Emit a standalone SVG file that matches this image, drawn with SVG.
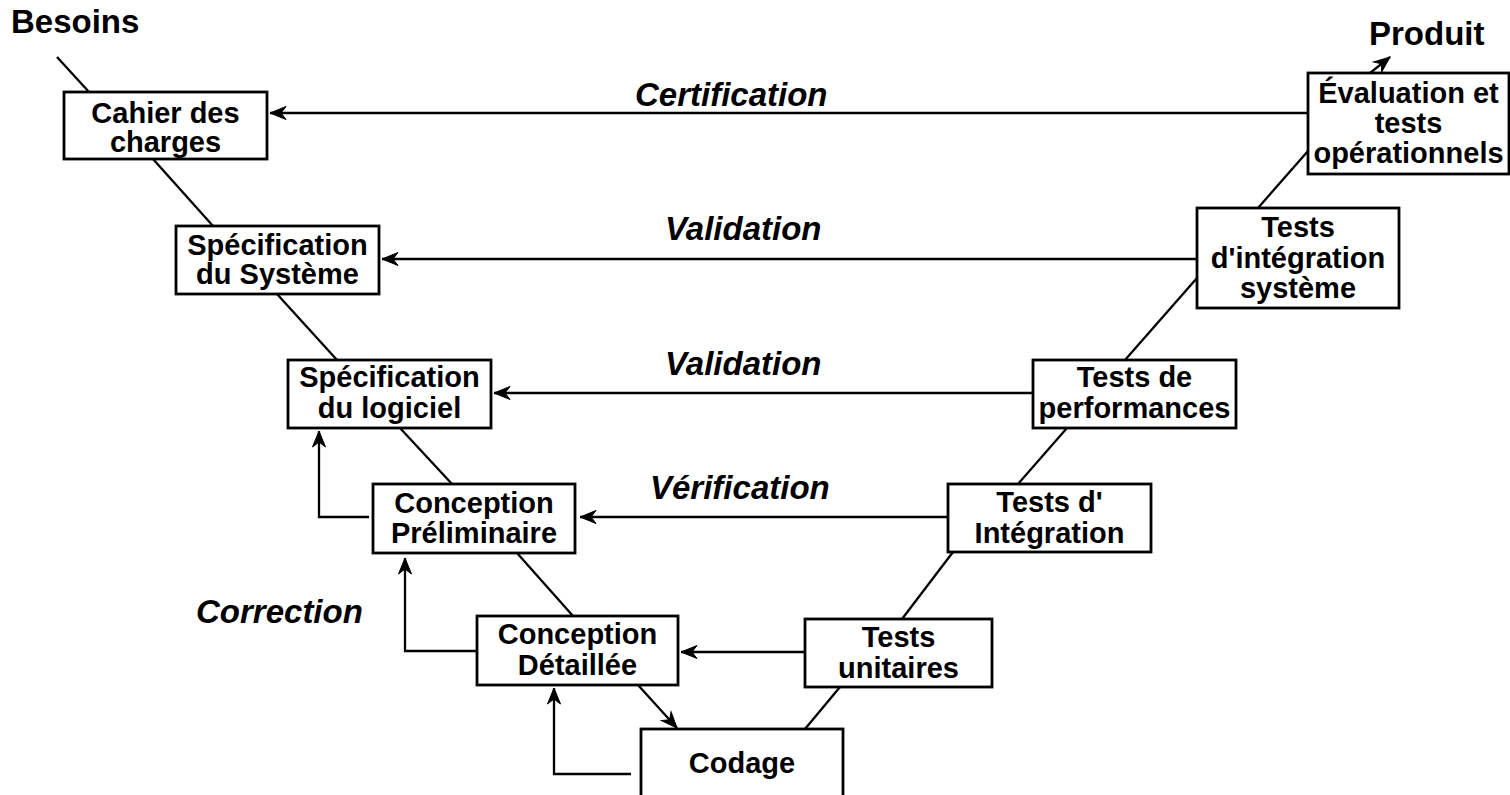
<svg xmlns="http://www.w3.org/2000/svg" width="1510" height="795" viewBox="0 0 1510 795">
  <style>
    .box { fill: #ffffff; stroke: #000000; stroke-width: 2.8; }
    .t { font-family: "Liberation Sans", Arial, sans-serif; font-weight: bold; font-size: 29px; fill: #000000; text-anchor: middle; }
    .lbl { font-family: "Liberation Sans", Arial, sans-serif; font-weight: bold; font-style: italic; font-size: 33px; fill: #000000; }
    .ext { font-family: "Liberation Sans", Arial, sans-serif; font-weight: bold; font-size: 33px; fill: #000000; }
    .ln { fill: none; stroke: #000000; stroke-width: 2.3; }
    .arr { fill: none; stroke: #000000; stroke-width: 2.3; marker-end: url(#head); }
  </style>
  <defs>
    <marker id="head" markerUnits="userSpaceOnUse" markerWidth="22" markerHeight="16" viewBox="-17 -8 19 16" refX="0" refY="0" orient="auto">
      <path d="M-16,-6.5 L0,0 L-16,6.5 L-11,0 Z" fill="#000000" stroke="#000000" stroke-width="1" stroke-linejoin="miter"/>
    </marker>
  </defs>

  <rect width="1510" height="795" fill="#ffffff"/>

  <!-- connectors -->
  <g id="connectors">
    <!-- V-shaped chain -->
    <line class="ln" x1="57" y1="57" x2="89" y2="92"/>
    <line class="ln" x1="153" y1="159" x2="213" y2="226"/>
    <line class="ln" x1="277" y1="294" x2="337" y2="360"/>
    <line class="ln" x1="400" y1="428" x2="452" y2="484"/>
    <line class="ln" x1="517" y1="553" x2="573" y2="616"/>
    <line class="arr" x1="638" y1="685" x2="677" y2="728"/>
    <line class="ln" x1="805" y1="729" x2="840" y2="687"/>
    <line class="ln" x1="902" y1="619" x2="953" y2="552"/>
    <line class="ln" x1="1018" y1="484" x2="1067" y2="428"/>
    <line class="ln" x1="1125" y1="360" x2="1197" y2="278"/>
    <line class="ln" x1="1258" y1="208" x2="1308" y2="151"/>
    <line class="arr" x1="1370" y1="73" x2="1390" y2="57"/>

    <!-- horizontal feedback -->
    <line class="arr" x1="1308" y1="113" x2="270" y2="113"/>
    <line class="arr" x1="1196" y1="259" x2="382" y2="259"/>
    <line class="arr" x1="1033" y1="393" x2="494" y2="393"/>
    <line class="arr" x1="948" y1="517" x2="580" y2="517"/>
    <line class="arr" x1="805" y1="652" x2="681" y2="652"/>

    <!-- correction loops -->
    <polyline class="arr" points="369,517 319,517 319,431"/>
    <polyline class="arr" points="479,651 405,651 405,558"/>
    <polyline class="arr" points="631,774 554,774 554,688"/>
  </g>

  <!-- left branch -->
  <g id="cahier-des-charges">
    <rect class="box" x="64" y="92" width="203" height="67"/>
    <text class="t" x="165.5" y="123">Cahier des</text>
    <text class="t" x="165.5" y="152">charges</text>
  </g>
  <g id="specification-systeme">
    <rect class="box" x="176" y="226" width="203" height="68"/>
    <text class="t" x="277.5" y="255">Spécification</text>
    <text class="t" x="277.5" y="284">du Système</text>
  </g>
  <g id="specification-logiciel">
    <rect class="box" x="288" y="360" width="203" height="68"/>
    <text class="t" x="389.5" y="387">Spécification</text>
    <text class="t" x="389.5" y="418">du logiciel</text>
  </g>
  <g id="conception-preliminaire">
    <rect class="box" x="373" y="484" width="202" height="69"/>
    <text class="t" x="474" y="513">Conception</text>
    <text class="t" x="474" y="543">Préliminaire</text>
  </g>
  <g id="conception-detaillee">
    <rect class="box" x="477" y="616" width="201" height="69"/>
    <text class="t" x="577.5" y="644">Conception</text>
    <text class="t" x="577.5" y="675">Détaillée</text>
  </g>
  <g id="codage">
    <rect class="box" x="641" y="729" width="202" height="90"/>
    <text class="t" x="742" y="773">Codage</text>
  </g>

  <!-- right branch -->
  <g id="tests-unitaires">
    <rect class="box" x="805" y="619" width="187" height="68"/>
    <text class="t" x="898.5" y="647">Tests</text>
    <text class="t" x="898.5" y="678">unitaires</text>
  </g>
  <g id="tests-integration">
    <rect class="box" x="948" y="484" width="203" height="68"/>
    <text class="t" x="1049.5" y="512">Tests d'</text>
    <text class="t" x="1049.5" y="543">Intégration</text>
  </g>
  <g id="tests-performances">
    <rect class="box" x="1033" y="360" width="203" height="68"/>
    <text class="t" x="1134.5" y="387">Tests de</text>
    <text class="t" x="1134.5" y="418">performances</text>
  </g>
  <g id="tests-integration-systeme">
    <rect class="box" x="1197" y="208" width="202" height="100"/>
    <text class="t" x="1298" y="237">Tests</text>
    <text class="t" x="1298" y="268">d'intégration</text>
    <text class="t" x="1298" y="298">système</text>
  </g>
  <g id="evaluation-tests-operationnels">
    <rect class="box" x="1308" y="73" width="201" height="101"/>
    <text class="t" x="1408.5" y="103">Évaluation et</text>
    <text class="t" x="1408.5" y="133">tests</text>
    <text class="t" x="1408.5" y="163">opérationnels</text>
  </g>

  <!-- end points -->
  <g id="besoins">
    <text class="ext" x="11" y="33">Besoins</text>
  </g>
  <g id="produit">
    <text class="ext" x="1369" y="45">Produit</text>
  </g>

  <!-- loop labels -->
  <g id="labels">
    <text class="lbl" x="635" y="106">Certification</text>
    <text class="lbl" x="665" y="240">Validation</text>
    <text class="lbl" x="665" y="375">Validation</text>
    <text class="lbl" x="650" y="499">Vérification</text>
    <text class="lbl" x="196" y="623">Correction</text>
  </g>
</svg>
